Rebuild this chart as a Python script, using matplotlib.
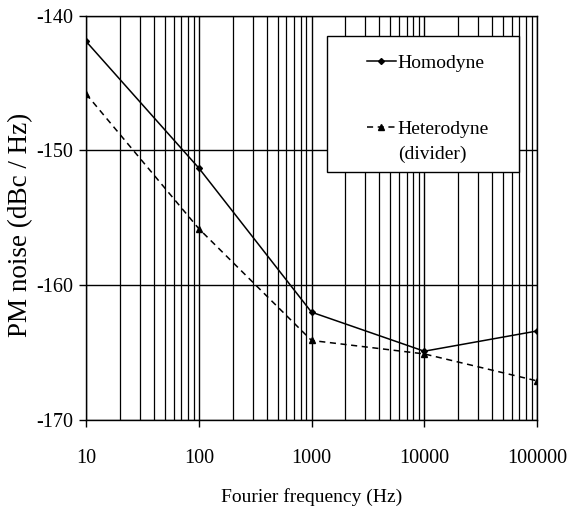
import numpy as np
import matplotlib.pyplot as plt
from matplotlib.patches import Rectangle
from matplotlib.ticker import FixedLocator, NullFormatter

plt.rcParams['font.family'] = ['Liberation Serif', 'DejaVu Serif']
plt.rcParams['axes.unicode_minus'] = False

# data
freq = [10, 100, 1000, 10000, 100000]
homodyne = [-141.9, -151.3, -162.0, -164.9, -163.4]
heterodyne = [-145.8, -155.8, -164.1, -165.1, -167.1]
xticks = [10, 100, 1000, 10000, 100000]
yticks = [-170, -160, -150, -140]

fig = plt.figure(figsize=(5.7, 5.09), dpi=100)
ax = fig.add_axes([0.151, 0.175, 0.791, 0.794])

ax.plot(freq, homodyne, '-', color='black', lw=1.1, marker='D', ms=3,
        label='Homodyne')
ax.plot(freq, heterodyne, '--', color='black', lw=1.1, marker='^', ms=4,
        dashes=(4, 3), label='Heterodyne')

ax.set_xscale('log')
ax.set_xlim(10, 100000)
ax.set_ylim(-170, -140)
ax.xaxis.set_major_locator(FixedLocator(xticks))
ax.set_xticklabels([str(t) for t in xticks])
minor = [m * 10**e for e in range(1, 5) for m in range(2, 10)]
ax.xaxis.set_minor_locator(FixedLocator(minor))
ax.xaxis.set_minor_formatter(NullFormatter())
ax.set_yticks(yticks)

ax.grid(True, which='major', axis='both', color='black', lw=1.0)
ax.grid(True, which='minor', axis='x', color='black', lw=0.9)
ax.tick_params(axis='both', which='major', direction='out', length=5,
               labelsize=14.5, width=1)
ax.tick_params(axis='x', which='major', pad=16)
ax.tick_params(axis='y', which='major', pad=4)
ax.tick_params(axis='x', which='minor', length=0)
for s in ax.spines.values():
    s.set_linewidth(1.0)

ax.set_xlabel('Fourier frequency (Hz)', fontsize=14)
ax.xaxis.set_label_coords(0.5, -0.168)
ax.set_ylabel('PM noise (dBc / Hz)', fontsize=19.5)
ax.yaxis.set_label_coords(-0.118, 0.483)

# legend box
ax.add_patch(Rectangle((0.534, 0.614), 0.426, 0.336, transform=ax.transAxes,
                       facecolor='white', edgecolor='black', lw=1.0, zorder=5))
leg = ax.legend(loc='upper left', bbox_to_anchor=(0.622, 0.905),
                fontsize=14, frameon=False, handlelength=1.5,
                handletextpad=0.1, labelspacing=2.5, borderpad=0,
                borderaxespad=0)
leg.set_zorder(6)
ax.text(0.767, 0.656, '(divider)', transform=ax.transAxes, fontsize=14,
        ha='center', va='center', zorder=6)

fig.savefig('out.png', dpi=100)
